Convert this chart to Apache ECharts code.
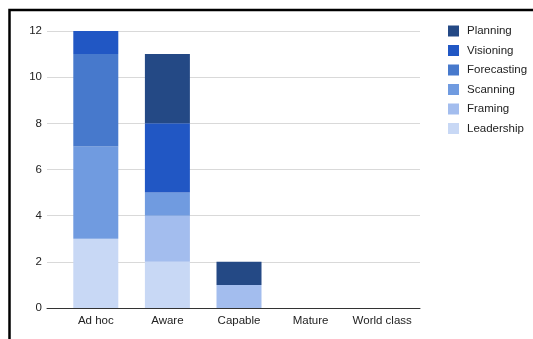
<!DOCTYPE html>
<html lang="en" style="height: 100%">
<head>
  <meta charset="UTF-8" />
  <title>Maturity stacked bars</title>
  <script src="https://cdn.jsdelivr.net/npm/echarts@6/dist/echarts.min.js"></script>
</head>
<body style="height: 100%; margin: 0; background: #fff">
  <div id="main" style="width: 533px; height: 339px"></div>
  <script type="text/javascript">
    var levels = ["Ad hoc", "Aware", "Capable", "Mature", "World class"];
    var leadership = [3, 2, 0, 0, 0];
    var framing = [0, 2, 1, 0, 0];
    var scanning = [4, 1, 0, 0, 0];
    var forecasting = [4, 0, 0, 0, 0];
    var visioning = [1, 3, 0, 0, 0];
    var planning = [0, 3, 1, 0, 0];
    var yTicks = [0, 2, 4, 6, 8, 10, 12];

    // bottom to top
    var stackList = [
      { name: "Leadership", data: leadership, color: "#c8d8f5" },
      { name: "Framing", data: framing, color: "#a3bdee" },
      { name: "Scanning", data: scanning, color: "#709be0" },
      { name: "Forecasting", data: forecasting, color: "#4779cc" },
      { name: "Visioning", data: visioning, color: "#2157c4" },
      { name: "Planning", data: planning, color: "#244985" }
    ];

    var font = "Liberation Sans, Arial, sans-serif";
    var myChart = echarts.init(document.getElementById("main"));

    var option = {
      animation: false,
      textStyle: { fontFamily: font },
      // grid 0 holds the bars, grid 1 only draws the wider gridlines / baseline
      grid: [
        { left: 60, right: 115, top: 31, bottom: 31 },
        { left: 47, right: 113, top: 31, bottom: 31 }
      ],
      graphic: [{
        type: "polyline",
        shape: { points: [[9.5, 400], [9.5, 10], [600, 10]] },
        style: { stroke: "#000", lineWidth: 2.5, fill: null }
      }],
      legend: {
        orient: "vertical",
        left: 443,
        top: 20,
        itemWidth: 11,
        itemHeight: 11,
        itemGap: 7.5,
        icon: "rect",
        data: stackList.map(function (s) { return s.name; }).reverse(),
        textStyle: { fontSize: 11.5, color: "#222", fontFamily: font, padding: [0, 0, 0, 3] }
      },
      xAxis: [
        {
          type: "category",
          gridIndex: 0,
          data: levels,
          axisTick: { show: false },
          axisLine: { show: false },
          axisLabel: { interval: 0, color: "#222", fontSize: 11.5, margin: 7, fontFamily: font }
        },
        {
          type: "value",
          gridIndex: 1,
          min: 0,
          max: 1,
          axisTick: { show: false },
          axisLabel: { show: false },
          splitLine: { show: false },
          axisLine: { lineStyle: { color: "#333", width: 1 } }
        }
      ],
      yAxis: [
        {
          type: "value",
          gridIndex: 0,
          min: yTicks[0],
          max: yTicks[yTicks.length - 1],
          interval: 2,
          show: false
        },
        {
          type: "value",
          gridIndex: 1,
          min: yTicks[0],
          max: yTicks[yTicks.length - 1],
          interval: 2,
          axisLine: { show: false },
          axisTick: { show: false },
          axisLabel: { color: "#222", fontSize: 11.5, margin: 5, fontFamily: font },
          splitLine: { lineStyle: { color: "#d9d9d9" } }
        }
      ],
      series: stackList.map(function (s) {
        return {
          name: s.name,
          type: "bar",
          stack: "total",
          xAxisIndex: 0,
          yAxisIndex: 0,
          barWidth: 45,
          data: s.data,
          itemStyle: { color: s.color }
        };
      })
    };

    if (option && typeof option === "object") {
      myChart.setOption(option);
    }
    window.addEventListener("resize", myChart.resize);
  </script>
</body>
</html>
